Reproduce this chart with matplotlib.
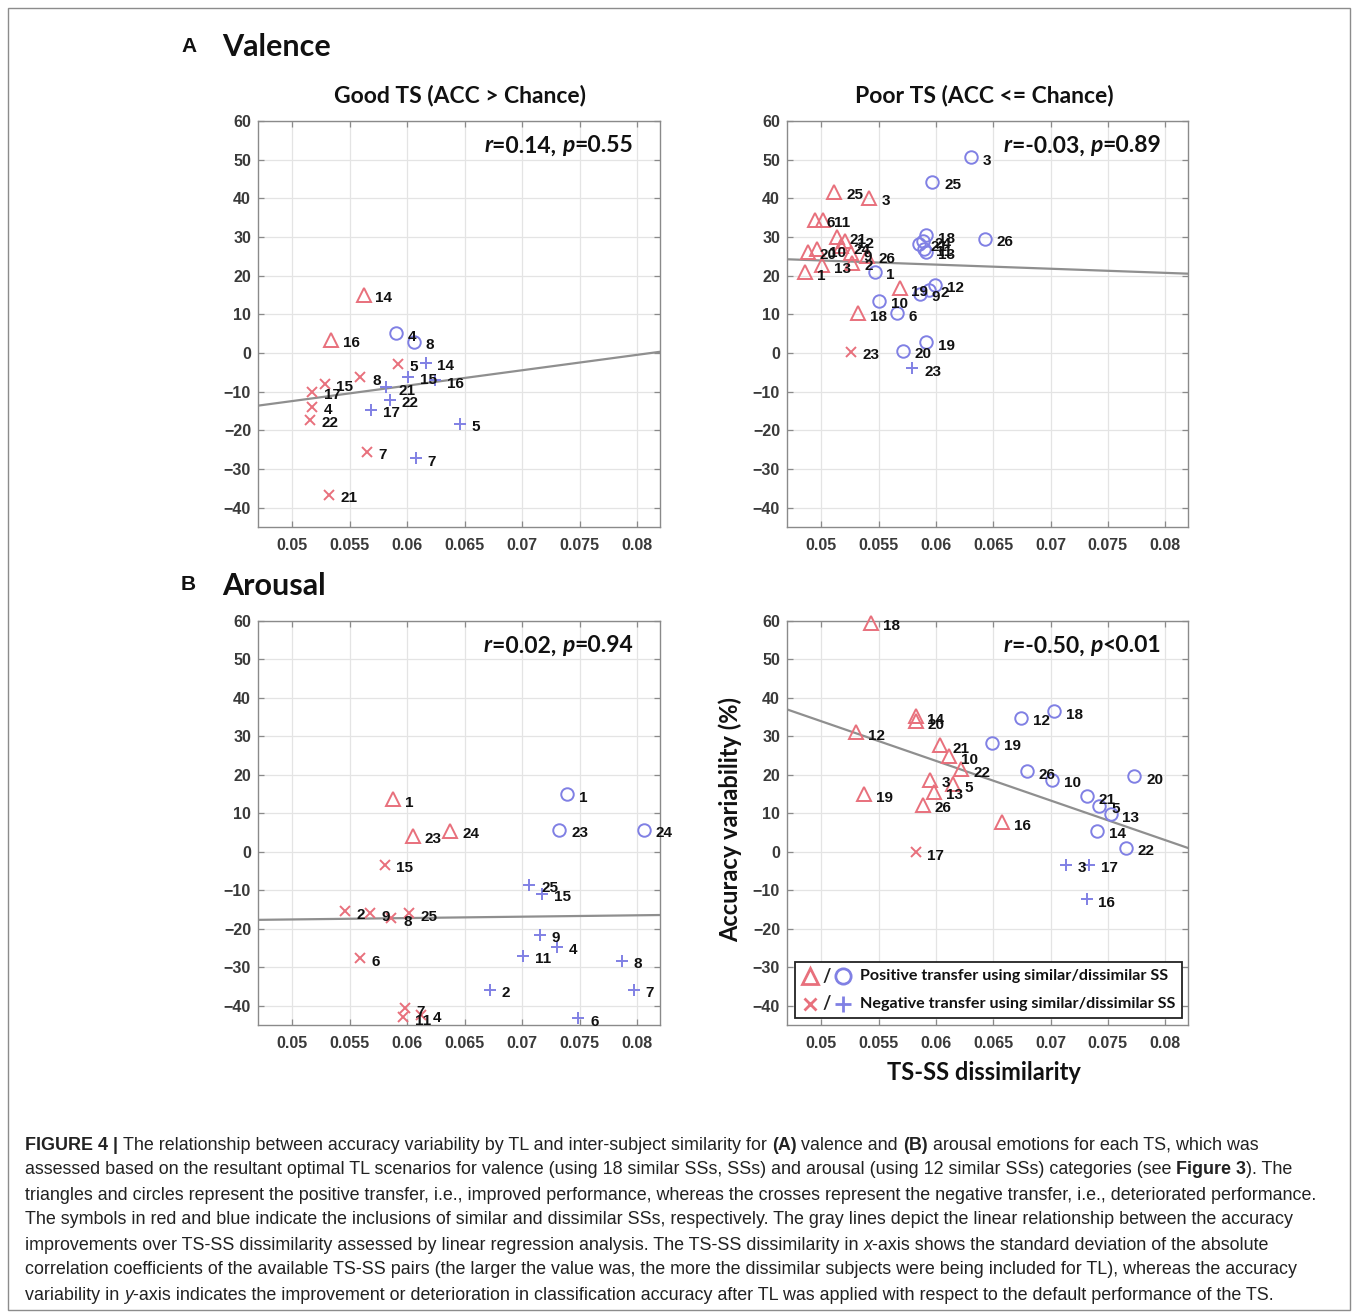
import numpy as np
import matplotlib
matplotlib.use('Agg')
import matplotlib.pyplot as plt
from matplotlib.patches import Rectangle
from matplotlib.lines import Line2D

W, H = 1356, 1315

# ---------------- DATA ----------------
# Panel A (Valence) - Good TS
aL_ps_x = [0.05620, 0.05338]
aL_ps_y = [15.0, 3.4]
aL_ps_id = ['14', '16']
aL_pd_x = [0.05905, 0.06056]
aL_pd_y = [5.1, 2.9]
aL_pd_id = ['4', '8']
aL_ns_x = [0.05919, 0.05591, 0.05279, 0.05172, 0.05172, 0.05154, 0.05649, 0.05317]
aL_ns_y = [-2.8, -6.3, -8.0, -10.0, -13.9, -17.3, -25.5, -36.7]
aL_ns_id = ['5', '8', '15', '17', '4', '22', '7', '21']
aL_nd_x = [0.06160, 0.06006, 0.06239, 0.05818, 0.05846, 0.05687, 0.06457, 0.06073]
aL_nd_y = [-2.5, -6.1, -7.0, -8.9, -12.1, -14.7, -18.3, -27.2]
aL_nd_id = ['14', '15', '16', '21', '22', '17', '5', '7']

# Panel A (Valence) - Poor TS
aR_ps_x = [0.05114, 0.05420, 0.04945, 0.05011, 0.05140, 0.05210, 0.05175, 0.04880,
           0.04963, 0.05262, 0.05271, 0.05394, 0.05009, 0.04860, 0.05318, 0.05682]
aR_ps_y = [41.7, 40.2, 34.4, 34.4, 30.0, 29.0, 27.6, 26.2,
           26.8, 25.8, 23.3, 25.1, 22.7, 20.9, 10.3, 16.7]
aR_ps_id = ['25', '3', '6', '11', '21', '12', '24', '20',
            '10', '9', '2', '26', '13', '1', '18', '19']
aR_pd_x = [0.06303, 0.05968, 0.05916, 0.05886, 0.05848, 0.05900, 0.05916, 0.06426,
           0.05464, 0.05994, 0.05940, 0.05857, 0.05501, 0.05658, 0.05916, 0.05711]
aR_pd_y = [50.6, 44.3, 30.5, 29.0, 28.2, 27.0, 26.2, 29.6,
           21.0, 17.6, 16.4, 15.3, 13.5, 10.3, 2.8, 0.6]
aR_pd_id = ['3', '25', '18', '24', '21', '11', '13', '26',
            '1', '12', '2', '9', '10', '6', '19', '20']
aR_ns_x = [0.05260]
aR_ns_y = [0.3]
aR_ns_id = ['23']
aR_nd_x = [0.05793]
aR_nd_y = [-4.0]
aR_nd_id = ['23']

# Panel B (Arousal) - Good TS
bL_ps_x = [0.05875, 0.06050, 0.06374]
bL_ps_y = [13.7, 4.2, 5.5]
bL_ps_id = ['1', '23', '24']
bL_pd_x = [0.07388, 0.07324, 0.08058]
bL_pd_y = [15.0, 5.7, 5.7]
bL_pd_id = ['1', '23', '24']
bL_ns_x = [0.05803, 0.05454, 0.05672, 0.05861, 0.06015, 0.05585, 0.05980, 0.05960, 0.06120]
bL_ns_y = [-3.4, -15.4, -16.0, -17.2, -15.9, -27.7, -40.6, -43.0, -42.3]
bL_ns_id = ['15', '2', '9', '8', '25', '6', '7', '11', '4']
bL_nd_x = [0.07062, 0.07170, 0.07155, 0.07300, 0.07010, 0.07866, 0.06719, 0.07970, 0.07490]
bL_nd_y = [-8.5, -10.9, -21.5, -24.6, -27.0, -28.3, -35.9, -35.9, -43.2]
bL_nd_id = ['25', '15', '9', '4', '11', '8', '2', '7', '6']

# Panel B (Arousal) - Poor TS
bR_ps_x = [0.05435, 0.05822, 0.05822, 0.05303, 0.06038, 0.06113, 0.06222, 0.05945,
           0.06149, 0.05983, 0.05376, 0.05886, 0.06580]
bR_ps_y = [59.6, 35.2, 34.0, 31.1, 27.7, 24.9, 21.5, 18.7,
           17.6, 15.6, 15.0, 12.2, 7.7]
bR_ps_id = ['18', '14', '20', '12', '21', '10', '22', '3',
            '5', '13', '19', '26', '16']
bR_pd_x = [0.06746, 0.07029, 0.06493, 0.06796, 0.07017, 0.07731, 0.07320, 0.07425,
           0.07525, 0.07408, 0.07656]
bR_pd_y = [34.8, 36.5, 28.4, 21.0, 18.7, 19.6, 14.4, 12.0, 9.8, 5.5, 1.0]
bR_pd_id = ['12', '18', '19', '26', '10', '20', '21', '5', '13', '14', '22']
bR_ns_x = [0.05822]
bR_ns_y = [-0.1]
bR_ns_id = ['17']
bR_nd_x = [0.07134, 0.07338, 0.07315]
bR_nd_y = [-3.4, -3.4, -12.3]
bR_nd_id = ['3', '17', '16']

stats_r = ['0.14', '-0.03', '0.02', '-0.50']
stats_p = ['=0.55', '=0.89', '=0.94', '<0.01']

x_ticks = [0.05, 0.055, 0.06, 0.065, 0.07, 0.075, 0.08]
x_ticklabels = ['0.05', '0.055', '0.06', '0.065', '0.07', '0.075', '0.08']
y_ticks = [-40, -30, -20, -10, 0, 10, 20, 30, 40, 50, 60]

# ---------------- STYLE ----------------
RED = '#e8707c'
BLUE = '#8080e4'
GRAY_LINE = '#8f8f8f'
SPINE = '#8a8a8a'
TICKC = '#3a3a3a'
TITLE_FONT = 'Lato'
NUM_FONT = 'Liberation Sans'

fig = plt.figure(figsize=(W / 100, H / 100), dpi=100)
fig.patch.set_facecolor('white')
renderer = fig.canvas.get_renderer()


def fx(px):
    return px / W


def fy(py):
    return 1 - py / H


def text_width(s, **kw):
    t = fig.text(0, 0, '|' + s + '|', **kw)
    t2 = fig.text(0, 0, '||', **kw)
    w = t.get_window_extent(renderer=renderer).width - t2.get_window_extent(renderer=renderer).width
    t.remove()
    t2.remove()
    return w


def draw_segments(segs, x_px, y_px, size, family, color, align='left'):
    widths = []
    for s, weight, style in segs:
        widths.append(text_width(s, fontsize=size, fontweight=weight, fontstyle=style, family=family))
    total = sum(widths)
    x = x_px - total if align == 'right' else x_px
    for (s, weight, style), w in zip(segs, widths):
        fig.text(fx(x), fy(y_px), s, fontsize=size, fontweight=weight, fontstyle=style,
                 family=family, color=color, ha='left', va='center_baseline')
        x += w


panels = [
    dict(pos=(258, 121, 660, 527), ps=(aL_ps_x, aL_ps_y, aL_ps_id), pd=(aL_pd_x, aL_pd_y, aL_pd_id),
         ns=(aL_ns_x, aL_ns_y, aL_ns_id), nd=(aL_nd_x, aL_nd_y, aL_nd_id), k=0),
    dict(pos=(787, 121, 1188, 527), ps=(aR_ps_x, aR_ps_y, aR_ps_id), pd=(aR_pd_x, aR_pd_y, aR_pd_id),
         ns=(aR_ns_x, aR_ns_y, aR_ns_id), nd=(aR_nd_x, aR_nd_y, aR_nd_id), k=1),
    dict(pos=(258, 621, 660, 1025), ps=(bL_ps_x, bL_ps_y, bL_ps_id), pd=(bL_pd_x, bL_pd_y, bL_pd_id),
         ns=(bL_ns_x, bL_ns_y, bL_ns_id), nd=(bL_nd_x, bL_nd_y, bL_nd_id), k=2),
    dict(pos=(787, 621, 1188, 1025), ps=(bR_ps_x, bR_ps_y, bR_ps_id), pd=(bR_pd_x, bR_pd_y, bR_pd_id),
         ns=(bR_ns_x, bR_ns_y, bR_ns_id), nd=(bR_nd_x, bR_nd_y, bR_nd_id), k=3),
]

XLIM = (0.0470, 0.0820)
YLIM = (-45, 60)

styles = {
    'ps': dict(marker='^', ms=10, mfc='none', mec=RED, mew=1.4),
    'pd': dict(marker='o', ms=9, mfc='none', mec=BLUE, mew=1.4),
    'ns': dict(marker='x', ms=7, mfc='none', mec=RED, mew=1.4),
    'nd': dict(marker='+', ms=9, mfc='none', mec=BLUE, mew=1.4),
}

axes = []
for p in panels:
    l, t, r, b = p['pos']
    ax = fig.add_axes([fx(l), fy(b), (r - l) / W, (b - t) / H])
    axes.append(ax)
    ax.set_xlim(*XLIM)
    ax.set_ylim(*YLIM)
    ax.set_xticks(x_ticks)
    ax.set_xticklabels(x_ticklabels)
    ax.set_yticks(y_ticks)
    ax.grid(True, color='#e4e4e4', lw=0.9)
    ax.set_axisbelow(True)
    for sp in ax.spines.values():
        sp.set_color(SPINE)
        sp.set_linewidth(1.0)
    ax.tick_params(direction='in', length=4, width=0.9, color=SPINE, top=True, right=True,
                   labelsize=11.5, labelcolor=TICKC)
    ax.tick_params(axis='x', pad=8)
    ax.tick_params(axis='y', pad=5)
    for lab in ax.get_xticklabels() + ax.get_yticklabels():
        lab.set_fontweight('bold')
        lab.set_family(NUM_FONT)

    # regression line over all points
    allx = np.concatenate([np.asarray(p[g][0], float) for g in ('ps', 'pd', 'ns', 'nd')])
    ally = np.concatenate([np.asarray(p[g][1], float) for g in ('ps', 'pd', 'ns', 'nd')])
    coef = np.polyfit(allx, ally, 1)
    xx = np.array(XLIM)
    ax.plot(xx, np.polyval(coef, xx), color=GRAY_LINE, lw=1.6, zorder=2)

    for g in ('ps', 'pd', 'ns', 'nd'):
        xs, ys, ids = p[g]
        ax.plot(xs, ys, ls='none', clip_on=False, zorder=3, **styles[g])
        for x, y, s in zip(xs, ys, ids):
            ax.annotate(s, (x, y), xytext=(8.5, -2.5), textcoords='offset points',
                        ha='left', va='center', fontsize=11, fontweight='bold',
                        family=NUM_FONT, color='#111111', zorder=4, annotation_clip=False)

    # r / p statistics
    k = p['k']
    segs = [('r', 'bold', 'italic'), ('=' + stats_r[k] + ', ', 'bold', 'normal'),
            ('p', 'bold', 'italic'), (stats_p[k], 'bold', 'normal')]
    draw_segments(segs, r - 27, t + 23, 16.5, TITLE_FONT, '#111111', align='right')

# Titles
fig.text(fx(460), fy(96), 'Good TS (ACC > Chance)', ha='center', va='center',
         fontsize=16.5, fontweight='bold', family=TITLE_FONT, color='#111111')
fig.text(fx(984), fy(96), 'Poor TS (ACC <= Chance)', ha='center', va='center',
         fontsize=16.5, fontweight='bold', family=TITLE_FONT, color='#111111')

# Section labels
fig.text(fx(181), fy(46), 'A', ha='left', va='center', fontsize=15, fontweight='bold',
         family=NUM_FONT, color='#111111')
fig.text(fx(222), fy(47), 'Valence', ha='left', va='center', fontsize=22, fontweight='bold',
         family=TITLE_FONT, color='#111111')
fig.text(fx(181), fy(585), 'B', ha='left', va='center', fontsize=15, fontweight='bold',
         family=NUM_FONT, color='#111111')
fig.text(fx(222), fy(586), 'Arousal', ha='left', va='center', fontsize=22, fontweight='bold',
         family=TITLE_FONT, color='#111111')

# Axis labels on B-right
fig.text(fx(730), fy(820), 'Accuracy variability (%)', ha='center', va='center', rotation=90,
         fontsize=17, fontweight='bold', family=TITLE_FONT, color='#111111')
fig.text(fx(984), fy(1072), 'TS-SS dissimilarity', ha='center', va='center',
         fontsize=17, fontweight='bold', family=TITLE_FONT, color='#111111')

# Legend (manual) in B-right
axl = axes[3]
axl.add_patch(Rectangle((0.02, 0.017), 0.965, 0.139, transform=axl.transAxes, fill=True,
                        facecolor='white', edgecolor='#222222', lw=1.3, zorder=5, clip_on=False))
rows = [(0.121, styles['ps'], styles['pd'], 'Positive transfer using similar/dissimilar SS'),
        (0.052, styles['ns'], styles['nd'], 'Negative transfer using similar/dissimilar SS')]
for yy, s1, s2, lab in rows:
    axl.add_line(Line2D([0.057], [yy], transform=axl.transAxes, ls='none', zorder=6, clip_on=False,
                        **dict(s1, ms=s1['ms'] + 2, mew=2.0)))
    axl.text(0.098, yy, '/', transform=axl.transAxes, ha='center', va='center', fontsize=13,
             fontweight='bold', family=TITLE_FONT, color='#222222', zorder=6)
    axl.add_line(Line2D([0.140], [yy], transform=axl.transAxes, ls='none', zorder=6, clip_on=False,
                        **dict(s2, ms=s2['ms'] + 2, mew=2.0)))
    axl.text(0.182, yy, lab, transform=axl.transAxes, ha='left', va='center', fontsize=11.6,
             fontweight='bold', family=TITLE_FONT, color='#111111', zorder=6)

# Outer frame
fig.add_artist(Rectangle((fx(8), fy(1310)), (1350 - 8) / W, (1310 - 8) / H, transform=fig.transFigure,
                         fill=False, edgecolor='#8c8c8c', lw=1.0))

# Caption
cap_lines = [
    [('FIGURE 4 | ', 'bold', 'normal'),
     ('The relationship between accuracy variability by TL and inter-subject similarity for ', 'normal', 'normal'),
     ('(A)', 'bold', 'normal'), (' valence and ', 'normal', 'normal'), ('(B)', 'bold', 'normal'),
     (' arousal emotions for each TS, which was', 'normal', 'normal')],
    [('assessed based on the resultant optimal TL scenarios for valence (using 18 similar SSs, SSs) and arousal (using 12 similar SSs) categories (see ', 'normal', 'normal'),
     ('Figure 3', 'bold', 'normal'), ('). The', 'normal', 'normal')],
    [('triangles and circles represent the positive transfer, i.e., improved performance, whereas the crosses represent the negative transfer, i.e., deteriorated performance.', 'normal', 'normal')],
    [('The symbols in red and blue indicate the inclusions of similar and dissimilar SSs, respectively. The gray lines depict the linear relationship between the accuracy', 'normal', 'normal')],
    [('improvements over TS-SS dissimilarity assessed by linear regression analysis. The TS-SS dissimilarity in ', 'normal', 'normal'),
     ('x', 'normal', 'italic'), ('-axis shows the standard deviation of the absolute', 'normal', 'normal')],
    [('correlation coefficients of the available TS-SS pairs (the larger the value was, the more the dissimilar subjects were being included for TL), whereas the accuracy', 'normal', 'normal')],
    [('variability in ', 'normal', 'normal'), ('y', 'normal', 'italic'),
     ('-axis indicates the improvement or deterioration in classification accuracy after TL was applied with respect to the default performance of the TS.', 'normal', 'normal')],
]
for i, segs in enumerate(cap_lines):
    draw_segments(segs, 25, 1143 + 25 * i, 12.9, NUM_FONT, '#222222')

fig.savefig('out.png', dpi=100, facecolor='white')
